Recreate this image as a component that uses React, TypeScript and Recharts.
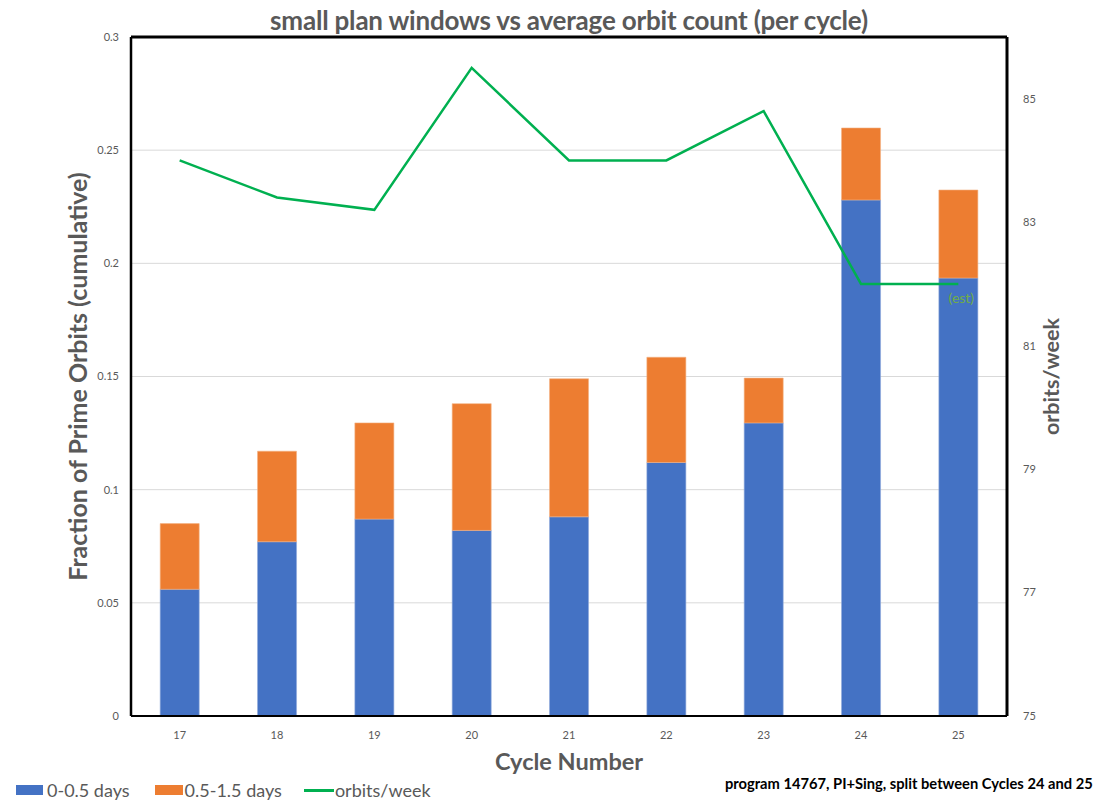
import React from 'react';
import { ComposedChart, Bar, Line, XAxis, YAxis, CartesianGrid, ReferenceLine, Label } from 'recharts';

const cycles = ['17', '18', '19', '20', '21', '22', '23', '24', '25'];
const shortWindows = [0.056, 0.077, 0.087, 0.082, 0.088, 0.112, 0.1295, 0.228, 0.1935];
const mediumWindows = [0.029, 0.040, 0.0425, 0.056, 0.061, 0.0465, 0.0198, 0.0318, 0.0389];
const orbitsPerWeek = [84.0, 83.4, 83.2, 85.5, 84.0, 84.0, 84.8, 82.0, 82.0];
const leftTicks = [0, 0.05, 0.1, 0.15, 0.2, 0.25, 0.3];
const rightTicks = [75, 77, 79, 81, 83, 85];

const data = cycles.map((c, i) => ({
  cycle: c,
  a: shortWindows[i],
  b: mediumWindows[i],
  orbits: orbitsPerWeek[i],
}));

const FONT = 'Lato, "Open Sans", sans-serif';

const EstLabel = (props: any) => {
  const { x, y, index } = props;
  if (index !== cycles.length - 1) return null;
  return (
    <text x={x + 3} y={y + 19} textAnchor="middle" fill="#70AD47" fontSize={14} fontFamily={FONT}>
      (est)
    </text>
  );
};

export default function App() {
  return (
    <div style={{ position: 'absolute', left: 0, top: 0, width: 1105, height: 801, background: '#fff', fontFamily: FONT }}>
      <div style={{ position: 'absolute', left: 0, width: 1138, top: 4, textAlign: 'center', fontSize: 26, lineHeight: '32px', fontWeight: 700, color: '#595959', letterSpacing: -0.2 }}>
        small plan windows vs average orbit count (per cycle)
      </div>
      <ComposedChart
        width={1105}
        height={801}
        data={data}
        margin={{ top: 37, right: 0, bottom: 55, left: 0 }}
        barCategoryGap="30%"
      >
        <CartesianGrid yAxisId="left" vertical={false} stroke="#D9D9D9" strokeWidth={1} />
        <XAxis
          dataKey="cycle"
          tickLine={false}
          axisLine={{ stroke: '#000', strokeWidth: 2 }}
          tick={{ fontSize: 11, fill: '#595959', fontFamily: FONT }}
          tickMargin={9}
        />
        <YAxis
          yAxisId="left"
          width={131}
          domain={[0, 0.3]}
          ticks={leftTicks}
          tickLine={false}
          axisLine={{ stroke: '#000', strokeWidth: 2.5 }}
          tick={{ fontSize: 11, fill: '#595959', fontFamily: FONT }}
          tickMargin={6}
        >
          <Label value="Fraction of Prime Orbits (cumulative)" angle={-90} position="center" dx={13} style={{ fontSize: 25, fontWeight: 700, fill: '#595959', fontFamily: FONT, textAnchor: 'middle' }} />
        </YAxis>
        <YAxis
          yAxisId="right"
          orientation="right"
          width={98}
          domain={[75, 86]}
          ticks={rightTicks}
          tickLine={false}
          axisLine={{ stroke: '#000', strokeWidth: 3 }}
          tick={{ fontSize: 11, fill: '#595959', fontFamily: FONT }}
          tickMargin={10}
        >
          <Label value="orbits/week" angle={-90} position="center" dx={-5} style={{ fontSize: 21.5, fontWeight: 700, fill: '#595959', fontFamily: FONT, textAnchor: 'middle' }} />
        </YAxis>
        <ReferenceLine yAxisId="left" y={0.3} stroke="#000" strokeWidth={3} />
        <Bar yAxisId="left" dataKey="a" stackId="s" fill="#4472C4" stroke="#8FAADC" strokeWidth={0.6} isAnimationActive={false} />
        <Bar yAxisId="left" dataKey="b" stackId="s" fill="#ED7D31" stroke="#F4B183" strokeWidth={0.6} isAnimationActive={false} />
        <Line
          yAxisId="right"
          dataKey="orbits"
          stroke="#00B050"
          strokeWidth={2.5}
          dot={false}
          isAnimationActive={false}
          label={<EstLabel />}
        />
      </ComposedChart>
      <div style={{ position: 'absolute', left: 469, width: 200, top: 747, textAlign: 'center', fontSize: 23.5, lineHeight: '28px', fontWeight: 700, color: '#595959' }}>
        Cycle Number
      </div>
      <div style={{ position: 'absolute', left: 16, top: 778, height: 24, display: 'flex', alignItems: 'center', fontSize: 18, color: '#595959' }}>
        <span style={{ display: 'inline-block', width: 27, height: 10, background: '#4472C4', marginRight: 4 }} />
        <span style={{ marginRight: 25 }}>0-0.5 days</span>
        <span style={{ display: 'inline-block', width: 28, height: 10, background: '#ED7D31', marginRight: 2 }} />
        <span style={{ marginRight: 22 }}>0.5-1.5 days</span>
        <span style={{ display: 'inline-block', width: 30, height: 3, background: '#00B050', marginRight: 1 }} />
        <span>orbits/week</span>
      </div>
      <div style={{ position: 'absolute', left: 725, top: 773, fontSize: 14.7, lineHeight: '20px', fontWeight: 700, color: '#000' }}>
        program 14767, PI+Sing, split between Cycles 24 and 25
      </div>
    </div>
  );
}
